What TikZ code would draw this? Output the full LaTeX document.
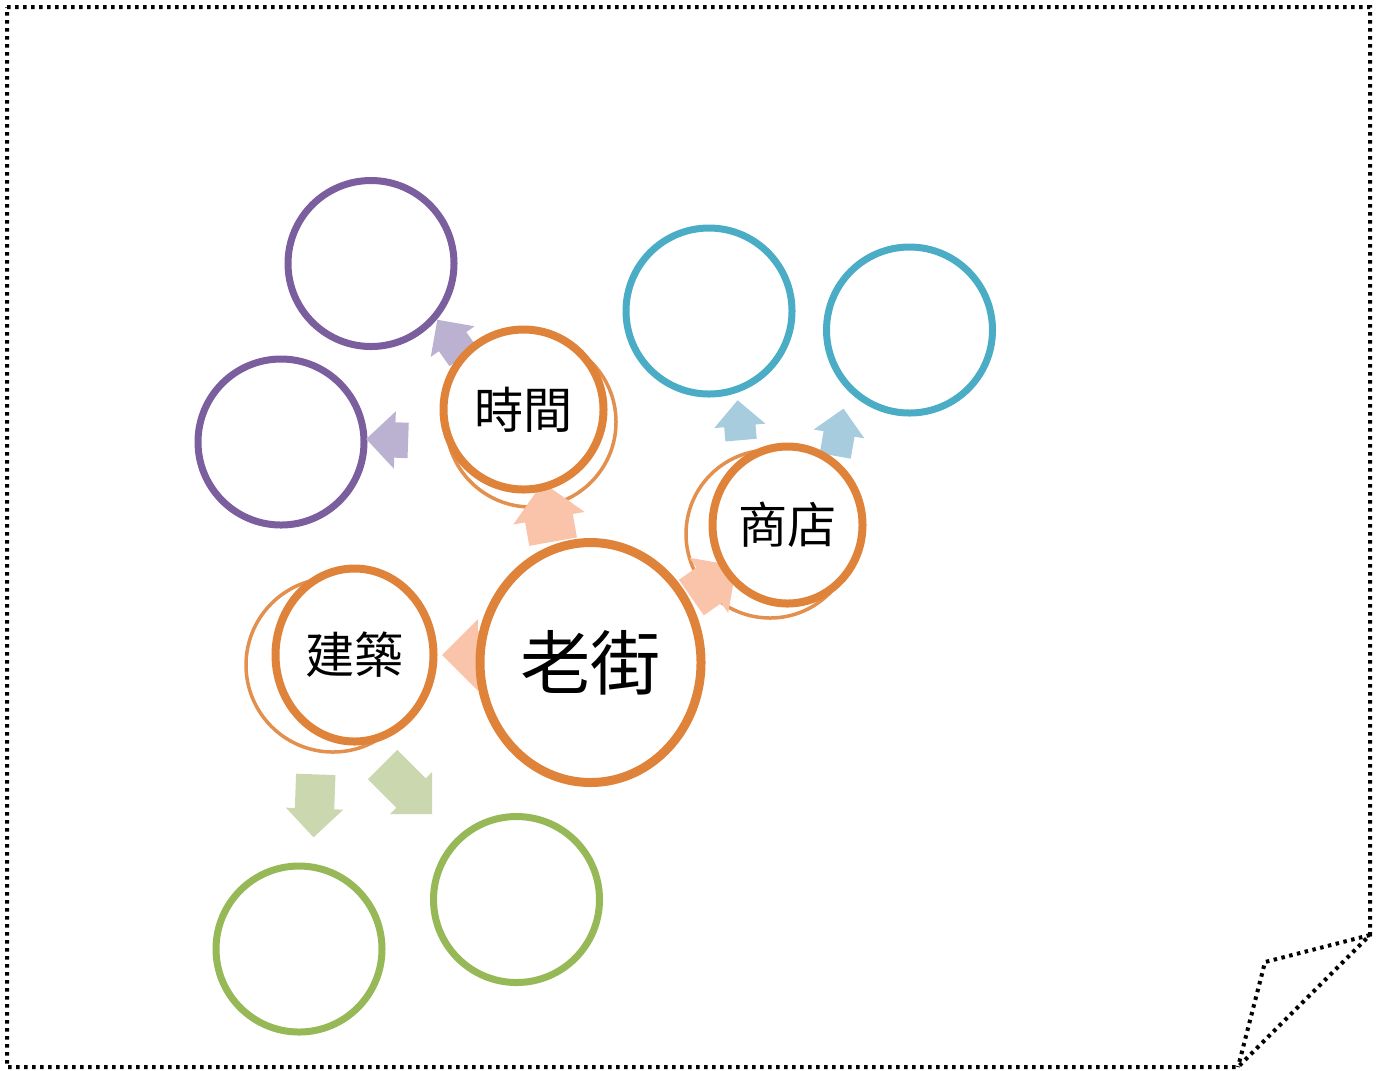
\documentclass[tikz,border=0pt]{standalone}
\usepackage{fontspec}
\newfontfamily\cjk{Noto Sans CJK TC}
\usetikzlibrary{shapes.geometric, shapes.arrows}

\definecolor{streetorange}{RGB}{224,131,58}
\definecolor{timepurple}{RGB}{122,94,158}
\definecolor{shopteal}{RGB}{75,172,198}
\definecolor{buildgreen}{RGB}{150,184,86}
\definecolor{lightpurple}{RGB}{187,178,210}
\definecolor{lightpeach}{RGB}{249,196,170}
\definecolor{lightteal}{RGB}{166,204,222}
\definecolor{lightgreen}{RGB}{203,216,175}

\begin{document}
\begin{tikzpicture}[
    ring/.style={circle, draw=#1, line width=0.07cm, minimum size=1.66cm, inner sep=0pt},
    topic/.style={ellipse, draw=streetorange, fill=white, line width=0.08cm, inner sep=0pt, font=\cjk\fontsize{14}{16}\selectfont},
    ghost/.style={circle, draw=streetorange!90, line width=0.035cm, inner sep=0pt},
    blk/.style={single arrow, fill=#1, inner xsep=0pt, single arrow head indent=0pt},
    page/.style={line width=0.04cm, dash pattern=on 0.035cm off 0.045cm}
]
\useasboundingbox (0,0) rectangle (13.81,-10.70);

% dotted page with folded corner
\draw[page] (0.07,-0.07) -- (13.70,-0.07) -- (13.70,-9.35) -- (12.38,-10.67) -- (0.07,-10.67) -- cycle;
\draw[page] (13.70,-9.35) -- (12.65,-9.62) -- (12.38,-10.67);

% outer circles
\node[ring=timepurple] (timeA) at (3.71,-2.635) {};
\node[ring=timepurple] (timeB) at (2.81,-4.42) {};
\node[ring=shopteal] (shopA) at (7.09,-3.11) {};
\node[ring=shopteal] (shopB) at (9.095,-3.30) {};
\node[ring=buildgreen] (buildA) at (2.99,-9.49) {};
\node[ring=buildgreen] (buildB) at (5.165,-8.995) {};

% block arrows
\node[blk=lightpurple, minimum height=0.45cm, inner ysep=0.16cm, single arrow head extend=0.10cm, rotate=125] (arrTA) at (4.55,-3.45) {};
\node[blk=lightpurple, minimum height=0.42cm, inner ysep=0.17cm, single arrow head extend=0.11cm, rotate=178] (arrTB) at (3.96,-4.40) {};
\node[blk=lightteal, minimum height=0.40cm, inner ysep=0.15cm, single arrow head extend=0.10cm, rotate=95] (arrSA) at (7.40,-4.28) {};
\node[blk=lightteal, minimum height=0.48cm, inner ysep=0.15cm, single arrow head extend=0.10cm, rotate=80] (arrSB) at (8.38,-4.40) {};
\node[blk=lightgreen, minimum height=0.63cm, inner ysep=0.19cm, single arrow head extend=0.09cm, rotate=268] (arrBA) at (3.15,-7.96) {};
\node[blk=lightgreen, minimum height=0.70cm, inner ysep=0.20cm, single arrow head extend=0.09cm, rotate=-45] (arrBB) at (4.00,-7.82) {};

% ghost rings
\node[ghost, minimum size=1.70cm] (timeghost) at (5.31,-4.22) {};
\node[ghost, minimum size=1.68cm] (shopghost) at (7.70,-5.34) {};
\node[ghost, minimum size=1.74cm] (buildghost) at (3.33,-6.65) {};

% arrows from the street
\node[blk=lightpeach, minimum height=0.60cm, inner ysep=0.235cm, single arrow head extend=0.12cm, rotate=100] (arrT) at (5.50,-5.24) {};
\node[blk=lightpeach, minimum height=0.55cm, inner ysep=0.21cm, single arrow head extend=0.12cm, rotate=35] (arrS) at (7.05,-5.88) {};
\node[blk=lightpeach, minimum height=0.50cm, inner ysep=0.23cm, single arrow head extend=0.12cm, rotate=180] (arrB) at (4.79,-6.55) {};

% topics
\node[topic, minimum width=1.60cm, minimum height=1.60cm] (time) at (5.235,-4.095) {時間};
\node[topic, minimum width=1.50cm, minimum height=1.57cm] (shop) at (7.875,-5.25) {商店};
\node[topic, minimum width=1.58cm, minimum height=1.73cm] (build) at (3.545,-6.55) {建築};
\node[topic, line width=0.09cm, minimum width=2.21cm, minimum height=2.40cm, font=\cjk\fontsize{20}{22}\selectfont] (street) at (5.905,-6.625) {老街};
\end{tikzpicture}
\end{document}
